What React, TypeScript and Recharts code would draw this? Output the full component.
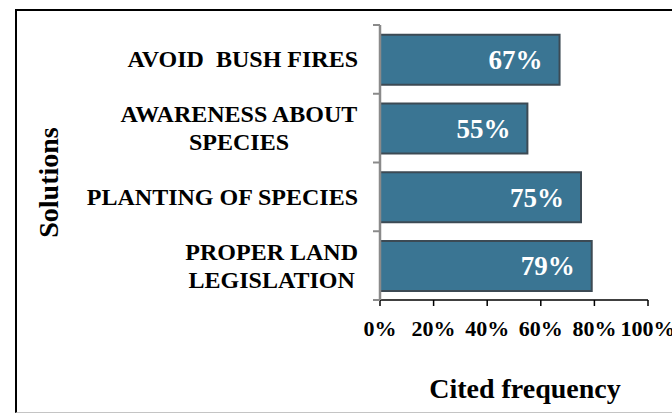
import React from 'react';
import { BarChart, Bar, XAxis, YAxis, LabelList, Label } from 'recharts';

const categories = [
    'AVOID BUSH FIRES',
    'AWARENESS ABOUT SPECIES',
    'PLANTING OF SPECIES',
    'PROPER LAND LEGISLATION',
];
const categoryLines = [
    ['AVOID  BUSH FIRES'],
    ['AWARENESS ABOUT', 'SPECIES'],
    ['PLANTING OF SPECIES'],
    ['PROPER LAND', 'LEGISLATION'],
];
const citedFrequency = [67, 55, 75, 79];
const xTicks = [0, 20, 40, 60, 80, 100];

const FONT = "'Liberation Serif', 'Times New Roman', serif";
const W = 672;
const H = 414;
const PLOT_TOP = 25;
const PLOT_BOTTOM = 300;
const Y_AXIS_W = 380;
const Y_TICK_MARGIN = 22;
const BAND = (PLOT_BOTTOM - PLOT_TOP) / categories.length;

const chartData = categories.map((name, i) => ({
    name,
    value: citedFrequency[i],
}));

let ctx: CanvasRenderingContext2D | null = null;
const measure = (s: string, font: string) => {
    if (!ctx) ctx = document.createElement('canvas').getContext('2d');
    if (!ctx) return s.length * 12;
    ctx.font = font;
    return ctx.measureText(s).width;
};

// category labels, with tick marks on the band edges (Excel style)
const CategoryTick = (props: any) => {
    const { x, y, index } = props;
    const lines = categoryLines[index] || [String(props.payload?.value)];
    const fs = 24;
    const lh = 28;
    const axisX = x + Y_TICK_MARGIN;
    const maxW = Math.max(...lines.map((l: string) => measure(l, `bold ${fs}px ${FONT}`)));
    const multi = lines.length > 1;
    const tx = multi ? x - maxW / 2 : x;
    const first = y + fs * 0.33 - ((lines.length - 1) * lh) / 2;
    return (
        <g>
            <line x1={axisX - 7} x2={axisX} y1={y - BAND / 2} y2={y - BAND / 2} stroke="#8a8a8a" strokeWidth={2} />
            {index === categories.length - 1 && (
                <line x1={axisX - 7} x2={axisX} y1={y + BAND / 2} y2={y + BAND / 2} stroke="#8a8a8a" strokeWidth={2} />
            )}
            <text
                x={tx}
                y={first}
                textAnchor={multi ? 'middle' : 'end'}
                fontFamily={FONT}
                fontWeight="bold"
                fontSize={fs}
                fill="#000"
                style={{ whiteSpace: 'pre' }}
            >
                {lines.map((l: string, i: number) => (
                    <tspan key={i} x={tx} y={first + i * lh}>
                        {l}
                    </tspan>
                ))}
            </text>
        </g>
    );
};

const SolutionsLabel = (props: any) => {
    const vb = props.viewBox || {};
    const cy = (vb.y ?? PLOT_TOP) + (vb.height ?? 0) / 2 + 20;
    const cx = 58;
    return (
        <text
            x={cx}
            y={cy}
            transform={`rotate(-90 ${cx} ${cy})`}
            textAnchor="middle"
            fontFamily={FONT}
            fontWeight="bold"
            fontSize={28}
            fill="#000"
        >
            Solutions
        </text>
    );
};

export default function App() {
    return (
        <div style={{ position: 'absolute', left: 0, top: 0, width: W, height: H, overflow: 'hidden', background: '#fff' }}>
            <div
                style={{
                    position: 'absolute',
                    left: 15,
                    top: 9,
                    width: 720,
                    height: 401,
                    borderLeft: '2px solid #000',
                    borderTop: '2px solid #000',
                    borderBottom: '1px solid #c4c4c4',
                }}
            />
            <div style={{ position: 'absolute', left: 0, top: 0 }}>
                <BarChart
                    width={W}
                    height={H}
                    data={chartData}
                    layout="vertical"
                    margin={{ top: PLOT_TOP, right: 24, left: 0, bottom: 0 }}
                    barCategoryGap="14%"
                >
                    <XAxis
                        type="number"
                        domain={[0, 100]}
                        ticks={xTicks}
                        tickFormatter={(v: number) => `${v}%`}
                        height={H - PLOT_BOTTOM}
                        axisLine={{ stroke: '#000', strokeWidth: 1.5 }}
                        tickLine={{ stroke: '#000', strokeWidth: 1.5 }}
                        tickSize={6}
                        tickMargin={14}
                        tick={{ fontFamily: FONT, fontWeight: 'bold', fontSize: 22, fill: '#000' }}
                        interval={0}
                    >
                        <Label
                            value="Cited frequency"
                            position="insideBottom"
                            offset={16}
                            dx={11}
                            fontFamily={FONT}
                            fontWeight="bold"
                            fontSize={28}
                            fill="#000"
                        />
                    </XAxis>
                    <YAxis
                        type="category"
                        dataKey="name"
                        width={Y_AXIS_W}
                        axisLine={{ stroke: '#8a8a8a', strokeWidth: 2.5 }}
                        tickLine={false}
                        tickSize={7}
                        tickMargin={15}
                        tick={<CategoryTick />}
                        interval={0}
                    >
                        <Label content={<SolutionsLabel />} />
                    </YAxis>
                    <Bar
                        dataKey="value"
                        fill="#3a7593"
                        stroke="#3c4a54"
                        strokeWidth={2}
                        isAnimationActive={false}
                    >
                        <LabelList
                            dataKey="value"
                            position="insideRight"
                            offset={17}
                            formatter={(v: any) => `${v}%`}
                            fill="#fff"
                            fontFamily={FONT}
                            fontWeight="bold"
                            fontSize={27}
                        />
                    </Bar>
                </BarChart>
            </div>
        </div>
    );
}
